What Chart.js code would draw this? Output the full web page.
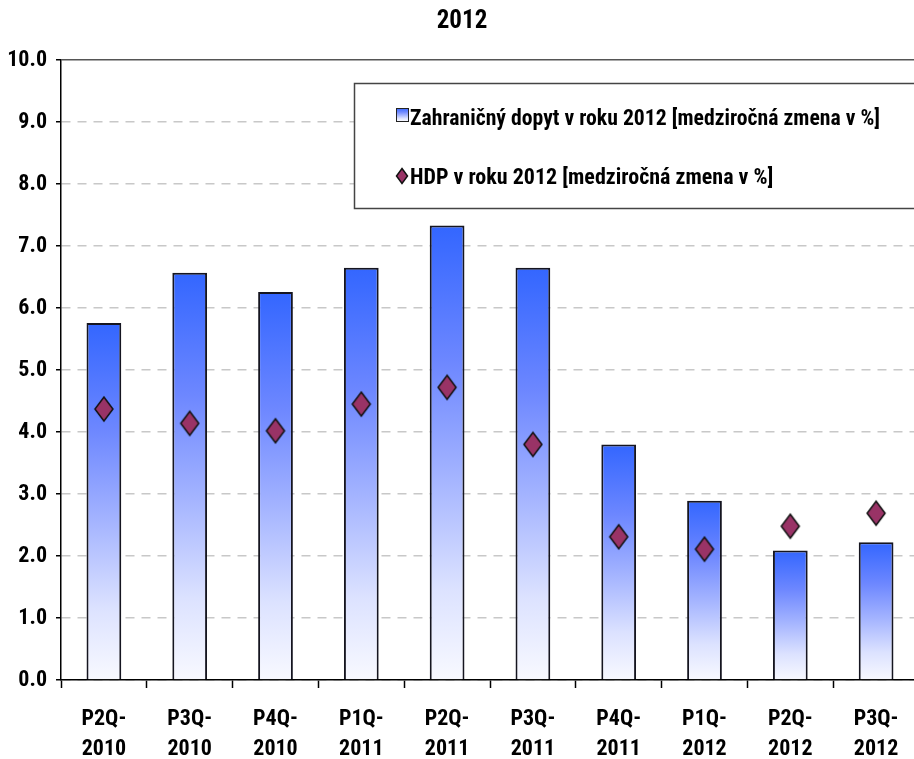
<!DOCTYPE html>
<html>
<head>
<meta charset="utf-8">
<script src="https://cdn.jsdelivr.net/npm/chart.js@4"></script>
<style>
    html, body { margin: 0; padding: 0; background: #fff; overflow: hidden; }
    #wrap { width: 932px; height: 759px; }
</style>
</head>
<body>
<div id="wrap"><canvas id="chart"></canvas></div>
<script>
    const categories = ['P2Q-2010', 'P3Q-2010', 'P4Q-2010', 'P1Q-2011', 'P2Q-2011', 'P3Q-2011', 'P4Q-2011', 'P1Q-2012', 'P2Q-2012', 'P3Q-2012']
    const foreignDemand = [5.76, 6.57, 6.26, 6.65, 7.33, 6.65, 3.80, 2.89, 2.09, 2.22]
    const gdp = [4.37, 4.14, 4.02, 4.45, 4.72, 3.80, 2.31, 2.11, 2.48, 2.69]
    const seriesNames = ['Zahraničný dopyt v roku 2012 [medziročná zmena v %]', 'HDP v roku 2012 [medziročná zmena v %]']
    const chartTitle = '2012'

    const FONT = "'Roboto Condensed', 'Liberation Sans', Arial, sans-serif"

    /*
    * Blue fade used by the bars and the legend swatch
    */
    const addStops = (g) => {
        g.addColorStop(0, '#3366ff')
        g.addColorStop(0.3, '#6d87ff')
        g.addColorStop(0.55, '#a3b3ff')
        g.addColorStop(0.8, '#dce2ff')
        g.addColorStop(1, '#f8f9ff')
        return g
    }

    const barGradient = (context) => {
        const chart = context.chart
        const y = chart.scales.y
        if (!y || context.raw === undefined) return '#3366ff'
        const top = y.getPixelForValue(context.raw)
        const bottom = y.getPixelForValue(0)
        if (!isFinite(top) || !isFinite(bottom) || top === bottom) return '#3366ff'
        return addStops(chart.ctx.createLinearGradient(0, top, 0, bottom))
    }

    const drawDiamond = (ctx, cx, cy, w, h) => {
        ctx.beginPath()
        ctx.moveTo(cx, cy - h / 2)
        ctx.lineTo(cx + w / 2, cy)
        ctx.lineTo(cx, cy + h / 2)
        ctx.lineTo(cx - w / 2, cy)
        ctx.closePath()
        ctx.fillStyle = '#993366'
        ctx.fill()
        ctx.lineWidth = 1.5
        ctx.strokeStyle = '#111'
        ctx.stroke()
    }

    const makeDiamond = (w, h) => {
        const c = document.createElement('canvas')
        c.width = w + 4
        c.height = h + 4
        drawDiamond(c.getContext('2d'), c.width / 2, c.height / 2, w, h)
        return c
    }

    const boxLegend = {
        id: 'boxLegend',
        beforeDatasetsDraw(chart) {
            const ctx = chart.ctx
            ctx.save()
            ctx.fillStyle = '#fff'
            ctx.fillRect(354, 83, 600, 125)
            ctx.strokeStyle = '#444'
            ctx.lineWidth = 1.5
            ctx.strokeRect(354.5, 83.5, 600, 125)

            // bar swatch
            ctx.fillStyle = addStops(ctx.createLinearGradient(0, 108, 0, 121))
            ctx.fillRect(396, 108, 12, 13)
            ctx.lineWidth = 1
            ctx.strokeStyle = '#222'
            ctx.strokeRect(396.5, 108.5, 12, 13)

            // marker swatch
            drawDiamond(ctx, 402, 176, 11, 15)

            ctx.fillStyle = '#000'
            ctx.font = 'bold 22px ' + FONT
            ctx.textBaseline = 'middle'
            ctx.fillText(seriesNames[0], 410, 119, 470)
            ctx.fillText(seriesNames[1], 410, 178, 470)
            ctx.restore()
        }
    }

    new Chart(document.getElementById('chart'), {
        data: {
            labels: categories,
            datasets: [
                {
                    type: 'line',
                    label: seriesNames[1],
                    data: gdp,
                    showLine: false,
                    pointStyle: makeDiamond(18, 24),
                    pointRadius: 12,
                    pointHoverRadius: 12,
                    order: 0
                },
                {
                    type: 'bar',
                    label: seriesNames[0],
                    data: foreignDemand,
                    backgroundColor: barGradient,
                    borderColor: '#151520',
                    borderWidth: 2,
                    borderSkipped: 'bottom',
                    barPercentage: 0.405,
                    categoryPercentage: 1,
                    order: 1
                }
            ]
        },
        options: {
            responsive: true,
            maintainAspectRatio: false,
            animation: false,
            layout: { padding: { left: 0, right: 8, top: 0, bottom: 0 } },
            plugins: {
                legend: { display: false },
                tooltip: { enabled: false },
                title: {
                    display: true,
                    text: chartTitle,
                    color: '#000',
                    font: { family: FONT, size: 25, weight: 'bold', lineHeight: 1.2 },
                    padding: { top: 7, bottom: 23 }
                }
            },
            scales: {
                x: {
                    offset: true,
                    grid: {
                        offset: true,
                        drawOnChartArea: false,
                        drawTicks: true,
                        tickLength: 8,
                        tickColor: '#000',
                        tickWidth: 1.5
                    },
                    border: { display: true, color: '#000', width: 1.5 },
                    ticks: {
                        color: '#000',
                        padding: 16,
                        maxRotation: 0,
                        autoSkip: false,
                        font: { family: FONT, size: 22, weight: 'bold', lineHeight: 1.39 },
                        callback: function(value) {
                            let parts = this.getLabelForValue(value).split('-')
                            return [parts[0] + '-', parts[1]]
                        }
                    },
                    afterFit: (scale) => { scale.height = 79 }
                },
                y: {
                    min: 0,
                    max: 10,
                    ticks: {
                        stepSize: 1,
                        color: '#000',
                        padding: 9,
                        font: { family: FONT, size: 22, weight: 'bold' },
                        callback: (value) => value.toFixed(1)
                    },
                    grid: {
                        color: (ctx) => ctx.tick && ctx.tick.value === 10 ? '#555' : '#c8c8c8',
                        lineWidth: 1.5,
                        tickLength: 5,
                        tickColor: '#000',
                        tickWidth: 1.5
                    },
                    border: {
                        display: true,
                        color: '#000',
                        width: 1.5,
                        dash: (ctx) => ctx.tick && ctx.tick.value === 10 ? [] : [9, 7]
                    },
                    afterFit: (scale) => { scale.width = 61 }
                }
            }
        },
        plugins: [boxLegend]
    })
</script>
</body>
</html>
